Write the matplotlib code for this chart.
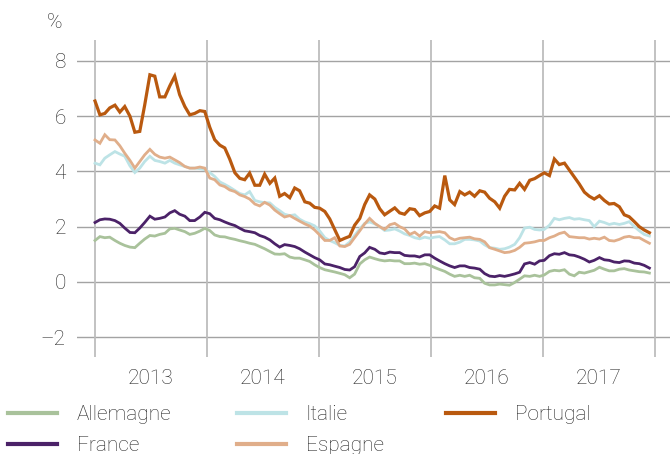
import numpy as np
import pandas as pd
import matplotlib
matplotlib.use("Agg")
import matplotlib.pyplot as plt
from matplotlib.lines import Line2D

# ── Données (rendements à 10 ans, %, lus sur le graphique, pas ~16 jours) ─────
N_PTS = 112
dates = pd.date_range("2013-01-01", "2017-12-14", periods=N_PTS)
years = dates.year + (dates.dayofyear - 1) / 365.25

allemagne = [
    1.50, 1.64, 1.60, 1.62, 1.50, 1.40, 1.32, 1.26, 1.24, 1.40, 1.55, 1.68, 1.66, 1.72, 1.76, 1.92,
    1.94, 1.88, 1.82, 1.72, 1.76, 1.84, 1.94,
    1.86, 1.70, 1.64, 1.63, 1.58, 1.54, 1.49, 1.45, 1.40, 1.36, 1.28, 1.20, 1.10, 1.01, 1.00, 1.02,
    0.90, 0.86, 0.86, 0.80, 0.74, 0.62,
    0.52, 0.44, 0.40, 0.36, 0.31, 0.26, 0.15, 0.28, 0.65, 0.80, 0.90, 0.84, 0.79, 0.76, 0.78, 0.76,
    0.76, 0.66, 0.66, 0.68, 0.64, 0.66,
    0.60, 0.52, 0.45, 0.38, 0.28, 0.20, 0.24, 0.20, 0.24, 0.15, 0.13, -0.05, -0.11, -0.11, -0.08,
    -0.10, -0.12, -0.02, 0.10, 0.22, 0.20, 0.24, 0.20,
    0.25, 0.38, 0.42, 0.40, 0.44, 0.28, 0.22, 0.35, 0.32, 0.37, 0.42, 0.53, 0.46, 0.40, 0.40, 0.46,
    0.48, 0.43, 0.40, 0.37, 0.36, 0.32,
]
france = [
    2.15, 2.25, 2.28, 2.27, 2.22, 2.12, 1.95, 1.79, 1.78, 1.95, 2.15, 2.38, 2.27, 2.30, 2.35, 2.50,
    2.58, 2.45, 2.38, 2.22, 2.22, 2.35, 2.52,
    2.47, 2.30, 2.25, 2.17, 2.10, 2.04, 1.94, 1.85, 1.82, 1.78, 1.68, 1.62, 1.52, 1.38, 1.26, 1.35,
    1.32, 1.28, 1.20, 1.08, 0.98, 0.88,
    0.80, 0.65, 0.62, 0.57, 0.52, 0.45, 0.43, 0.55, 0.92, 1.05, 1.25, 1.18, 1.05, 1.02, 1.08, 1.06,
    1.06, 0.96, 0.94, 0.94, 0.90, 0.98,
    0.98, 0.86, 0.76, 0.66, 0.58, 0.52, 0.58, 0.58, 0.52, 0.50, 0.46, 0.30, 0.21, 0.19, 0.23, 0.20,
    0.24, 0.29, 0.35, 0.65, 0.70, 0.64, 0.76,
    0.78, 0.95, 1.02, 1.00, 1.06, 0.98, 0.96, 0.90, 0.82, 0.72, 0.78, 0.88, 0.80, 0.78, 0.72, 0.70,
    0.76, 0.75, 0.68, 0.66, 0.60, 0.50,
]
italie = [
    4.30, 4.24, 4.48, 4.60, 4.72, 4.63, 4.55, 4.20, 3.96, 4.12, 4.36, 4.55, 4.40, 4.36, 4.30, 4.40,
    4.30, 4.24, 4.18, 4.12, 4.12, 4.10, 4.06,
    3.96, 3.82, 3.62, 3.53, 3.43, 3.31, 3.20, 3.15, 3.27, 2.95, 2.90, 2.87, 2.86, 2.70, 2.58, 2.45,
    2.40, 2.43, 2.27, 2.17, 2.11, 2.03,
    1.85, 1.60, 1.50, 1.42, 1.32, 1.30, 1.44, 1.68, 1.92, 2.12, 2.17, 2.10, 2.00, 1.86, 1.88, 1.92,
    1.84, 1.74, 1.68, 1.60, 1.56, 1.62,
    1.58, 1.62, 1.64, 1.52, 1.38, 1.38, 1.44, 1.54, 1.54, 1.52, 1.48, 1.34, 1.24, 1.22, 1.18, 1.20,
    1.26, 1.36, 1.60, 1.95, 1.98, 1.90, 1.88,
    1.90, 2.05, 2.30, 2.25, 2.30, 2.33, 2.27, 2.29, 2.25, 2.22, 2.00, 2.20, 2.15, 2.08, 2.12, 2.08,
    2.12, 2.18, 2.00, 1.85, 1.72, 1.66,
]
espagne = [
    5.14, 5.02, 5.33, 5.15, 5.14, 4.93, 4.66, 4.40, 4.12, 4.36, 4.60, 4.80, 4.62, 4.52, 4.48, 4.52,
    4.42, 4.32, 4.18, 4.12, 4.12, 4.16, 4.12,
    3.76, 3.70, 3.51, 3.45, 3.33, 3.27, 3.15, 3.09, 3.00, 2.82, 2.75, 2.88, 2.78, 2.60, 2.47, 2.35,
    2.40, 2.30, 2.20, 2.10, 2.02, 1.88,
    1.70, 1.50, 1.50, 1.60, 1.30, 1.28, 1.36, 1.60, 1.85, 2.10, 2.30, 2.12, 2.00, 1.90, 2.07, 2.12,
    2.00, 1.92, 1.72, 1.80, 1.66, 1.82,
    1.78, 1.80, 1.82, 1.78, 1.60, 1.52, 1.58, 1.60, 1.62, 1.56, 1.54, 1.45, 1.24, 1.18, 1.12, 1.06,
    1.08, 1.14, 1.25, 1.40, 1.42, 1.45, 1.50,
    1.50, 1.60, 1.66, 1.75, 1.80, 1.64, 1.62, 1.60, 1.60, 1.55, 1.58, 1.55, 1.62, 1.50, 1.48, 1.54,
    1.62, 1.65, 1.60, 1.60, 1.50, 1.40,
]
portugal = [
    6.55, 6.05, 6.10, 6.30, 6.40, 6.15, 6.35, 6.00, 5.42, 5.45, 6.40, 7.50, 7.45, 6.70, 6.70, 7.10,
    7.45, 6.78, 6.35, 6.05, 6.10, 6.20, 6.17,
    5.60, 5.15, 4.95, 4.85, 4.45, 3.95, 3.75, 3.70, 3.94, 3.50, 3.50, 3.90, 3.57, 3.76, 3.10, 3.20,
    3.05, 3.40, 3.30, 2.90, 2.85, 2.70,
    2.67, 2.55, 2.28, 1.90, 1.50, 1.58, 1.65, 2.05, 2.30, 2.80, 3.15, 3.00, 2.65, 2.43, 2.56, 2.68,
    2.50, 2.45, 2.65, 2.62, 2.40, 2.50,
    2.55, 2.75, 2.67, 3.85, 2.97, 2.80, 3.27, 3.15, 3.25, 3.10, 3.30, 3.25, 3.03, 2.90, 2.67, 3.10,
    3.35, 3.33, 3.57, 3.35, 3.68, 3.74, 3.85,
    3.95, 3.85, 4.45, 4.25, 4.30, 4.05, 3.80, 3.55, 3.25, 3.10, 3.00, 3.12, 2.95, 2.82, 2.84, 2.72,
    2.43, 2.36, 2.18, 2.00, 1.88, 1.78,
]

series = [
    ("Allemagne", allemagne, "#a9c29b", 2.0),
    ("France",    france,    "#4b2268", 2.0),
    ("Italie",    italie,    "#bde3e6", 2.0),
    ("Espagne",   espagne,   "#e0ae8a", 2.0),
    ("Portugal",  portugal,  "#b9590f", 2.3),
]

YEAR_TICKS = [2013, 2014, 2015, 2016, 2017, 2018]
Y_TICKS    = [-2, 0, 2, 4, 6, 8]
TXT        = "#262626"

plt.rcParams["font.family"] = ["Roboto", "DejaVu Sans"]
plt.rcParams["font.weight"] = "light"

fig = plt.figure(figsize=(6.7, 4.54), dpi=100)
ax = fig.add_axes([77 / 670, (454 - 357) / 454, 593 / 670, 317 / 454])
ax.set_xlim(2013 - 18 / 112, 2013 + 575 / 112)
ax.set_ylim(-2.72, 8.76)

for yv in Y_TICKS:
    ax.axhline(yv, color="#a3a3a3", lw=1.0, zorder=1)
for xv in YEAR_TICKS:
    ax.axvline(xv, color="#bdbdbd", lw=1.3, zorder=1)

for name, vals, col, lw in series:
    ax.plot(years, vals, color=col, lw=lw, label=name, zorder=3,
            solid_joinstyle="miter")

for sp in ax.spines.values():
    sp.set_visible(False)

ax.set_yticks(Y_TICKS)
ax.set_yticklabels([str(v).replace("-", "\u2013") for v in Y_TICKS])
ax.set_xticks([y + 0.5 for y in YEAR_TICKS[:-1]])
ax.set_xticklabels([str(y) for y in YEAR_TICKS[:-1]])
ax.tick_params(axis="both", length=0, labelsize=15, labelcolor=TXT)
ax.tick_params(axis="y", pad=8)
ax.tick_params(axis="x", pad=9)

fig.text(47 / 670, 1 - 22 / 454, "%", fontsize=15, color=TXT, va="center", ha="left")

# Légende en trois colonnes
handles = {name: Line2D([], [], color=col, lw=3) for name, _, col, _ in series}
cols = [(["Allemagne", "France"], 8), (["Italie", "Espagne"], 237), (["Portugal"], 446)]
for names, xpx in cols:
    leg = fig.legend([handles[n] for n in names], names, loc="upper left",
                     bbox_to_anchor=(xpx / 670, 1 - 405 / 454), frameon=False,
                     fontsize=15, handlelength=2.35, handletextpad=0.95,
                     labelspacing=0.58, borderpad=0, borderaxespad=0, labelcolor=TXT)

fig.savefig("out.png", dpi=100)
